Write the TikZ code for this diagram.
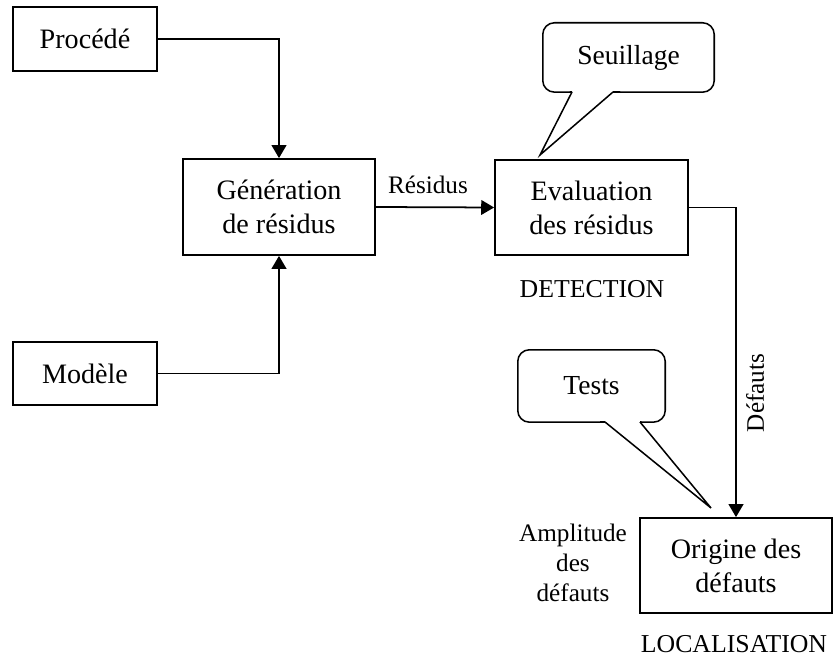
\documentclass[tikz,border=0pt]{standalone}
\usepackage{fontspec}
\setmainfont{Liberation Serif}
\usetikzlibrary{arrows.meta}

\tikzset{
  block/.style={draw, line width=1.5pt, inner sep=0pt, align=center,
    font=\fontsize{24}{29}\selectfont},
  label/.style={inner sep=0pt, align=center, font=\fontsize{21.5}{25.5}\selectfont},
  stage/.style={inner sep=0pt, font=\fontsize{22}{26}\selectfont},
  bubbletext/.style={inner sep=0pt, font=\fontsize{23.5}{28}\selectfont},
  bubble/.style={line width=1.3pt, rounded corners=10pt},
  tail/.style={line width=1.3pt, line join=miter},
  flow/.style={line width=1.5pt},
  arrowflow/.style={flow, -{Triangle[length=11pt,width=12.5pt]}}
}

\begin{document}
\begin{tikzpicture}[x=0.03cm, y=-0.03cm]
  \useasboundingbox (0,0) rectangle (833,657);

  % main blocks
  \node[block, minimum width=4.32cm, minimum height=1.92cm] (proc) at (85,39) {Procédé};
  \node[block, minimum width=4.32cm, minimum height=1.89cm] (mod) at (85,373.5) {Modèle};
  \node[block, minimum width=5.76cm, minimum height=2.88cm] (gen) at (279,207) {Génération\\de résidus};
  \node[block, minimum width=5.79cm, minimum height=2.85cm] (eval) at (591.5,207.5) {Evaluation\\des résidus};
  \node[block, minimum width=5.76cm, minimum height=2.85cm] (orig) at (736,565.5) {Origine des\\défauts};

  % connectors
  \draw[arrowflow] (proc.east) -| (gen.north);
  \draw[arrowflow] (mod.east) -| (gen.south);
  \draw[arrowflow] (gen.east) -- (eval.west);
  \draw[arrowflow] (eval.east) -| (orig.north);

  % labels
  \node[label] (res) at (428,185) {Résidus};
  \node[label, rotate=90] (def) at (755,393) {Défauts};
  \node[label] (ampl) at (573,563) {Amplitude\\des\\défauts};
  \node[stage] (det) at (592,289) {DETECTION};
  \node[stage] (loc) at (734,644) {LOCALISATION};

  % speech bubble: Seuillage
  \node[bubbletext, minimum width=5.13cm, minimum height=2.07cm] (seuil) at (628.5,57.5) {Seuillage};
  \coordinate (seuiltip) at (540,155);
  \draw[bubble] (572,92) -- (seuil.south west) -- (seuil.north west)
    -- (seuil.north east) -- (seuil.south east) -- (613,92);
  \draw[tail] (572,92) -- (seuiltip) -- (613,92);

  % speech bubble: Tests
  \node[bubbletext, minimum width=4.41cm, minimum height=2.16cm] (tests) at (591.5,386) {Tests};
  \coordinate (teststip) at (711,508);
  \draw[bubble] (605,422) -- (tests.south west) -- (tests.north west)
    -- (tests.north east) -- (tests.south east) -- (640,422);
  \draw[tail] (605,422) -- (teststip) -- (640,422);
\end{tikzpicture}
\end{document}
